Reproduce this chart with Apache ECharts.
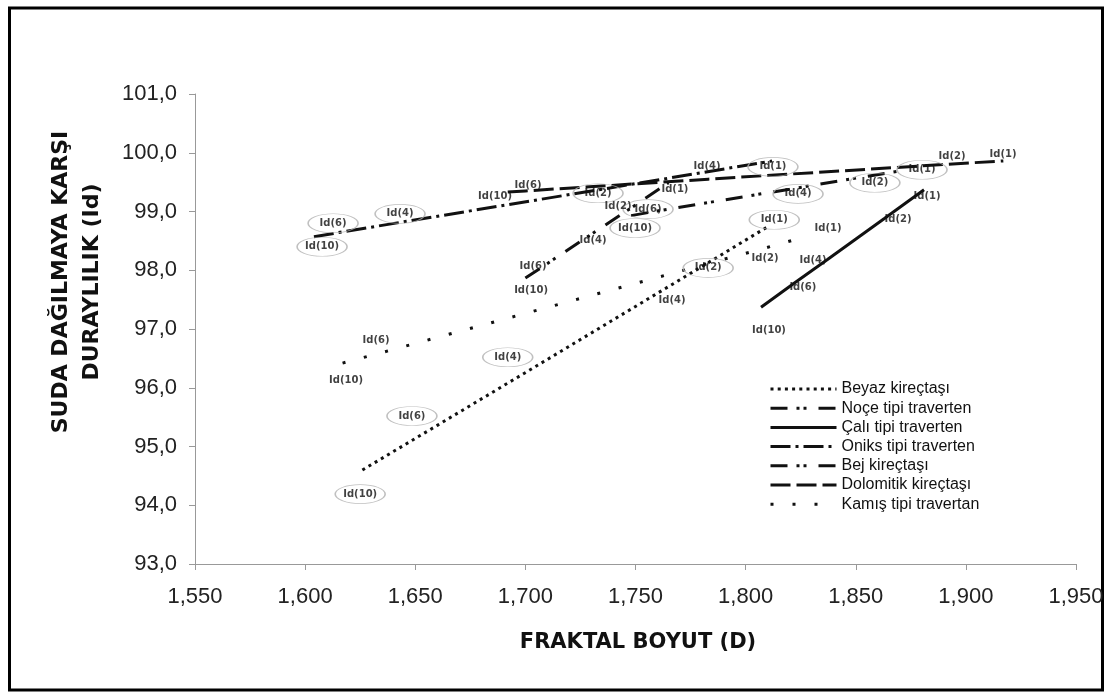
<!DOCTYPE html>
<html><head><meta charset="utf-8">
<script src="https://cdn.jsdelivr.net/npm/echarts@6/dist/echarts.min.js"></script>
<style>html,body{margin:0;padding:0;background:#fff}#c{width:1110px;height:698px}</style>
</head><body><div id="c"></div>
<script>
// ---- data ----
const idLabels = ['Id(10)', 'Id(6)', 'Id(4)', 'Id(2)', 'Id(1)'];
const seriesNames = ['Beyaz kireçtaşı', 'Noçe tipi traverten', 'Çalı tipi traverten', 'Oniks tipi traverten', 'Bej kireçtaşı', 'Dolomitik kireçtaşı', 'Kamış tipi travertan'];
const xTicks = { min: 1.55, max: 1.95, step: 0.05 };
const yTicks = { min: 93, max: 101, step: 1 };

const beyazD  = [1.626, 1.660, 1.705, 1.780, 1.810];
const beyazId = [94.60, 95.36, 96.37, 98.06, 98.74];
const beyazLblD  = [1.625, 1.6485, 1.692, 1.783, 1.813];
const beyazLblId = [94.19, 95.52, 96.52, 98.04, 98.86];

const noceD  = [1.700, 1.707, 1.725, 1.750, 1.765];
const noceId = [97.87, 98.04, 98.49, 99.11, 99.49];
const noceLblD  = [1.7026, 1.7035, 1.7307, 1.7421, 1.7679];
const noceLblId = [97.66, 98.06, 98.51, 99.09, 99.38];

const caliD  = [1.807, 1.822, 1.837, 1.863, 1.881];
const caliId = [97.37, 97.78, 98.18, 98.88, 99.37];
const caliLblD  = [1.8106, 1.8260, 1.8306, 1.8692, 1.8824];
const caliLblId = [96.98, 97.70, 98.17, 98.86, 99.25];

const oniksD  = [1.604, 1.615, 1.644, 1.735, 1.812];
const oniksId = [98.57, 98.64, 98.82, 99.38, 99.86];
const oniksLblD  = [1.6077, 1.6127, 1.6431, 1.7330, 1.8124];
const oniksLblId = [98.40, 98.80, 98.96, 99.31, 99.76];

const bejD  = [1.748, 1.760, 1.820, 1.852, 1.870];
const bejId = [98.93, 99.01, 99.38, 99.58, 99.69];
const bejLblD  = [1.7498, 1.7557, 1.8238, 1.8587, 1.8801];
const bejLblId = [98.72, 99.04, 99.30, 99.49, 99.71];

const doloD  = [1.692, 1.700, 1.783, 1.894, 1.917];
const doloId = [99.33, 99.35, 99.55, 99.81, 99.86];
const doloLblD  = [1.6862, 1.7012, 1.7825, 1.8937, 1.9169];
const doloLblId = [99.25, 99.45, 99.77, 99.93, 99.98];

const kamisD  = [1.617, 1.632, 1.767, 1.809, 1.827];
const kamisId = [96.42, 96.57, 97.95, 98.38, 98.57];
const kamisLblD  = [1.6186, 1.6322, 1.7666, 1.8088, 1.8374];
const kamisLblId = [96.13, 96.81, 97.49, 98.21, 98.72];

// ---- styles ----
const groups = [
  { d: beyazD, id: beyazId, ld: beyazLblD, lid: beyazLblId, ring: true,  dash: [3, 4.2] },
  { d: noceD,  id: noceId,  ld: noceLblD,  lid: noceLblId,  ring: false, dash: [17, 9, 3, 4, 3, 12] },
  { d: caliD,  id: caliId,  ld: caliLblD,  lid: caliLblId,  ring: false, dash: 'solid' },
  { d: oniksD, id: oniksId, ld: oniksLblD, lid: oniksLblId, ring: true,  dash: [20, 5, 3, 5] },
  { d: bejD,   id: bejId,   ld: bejLblD,   lid: bejLblId,   ring: true,  dash: [17, 9, 3, 4, 3, 12] },
  { d: doloD,  id: doloId,  ld: doloLblD,  lid: doloLblId,  ring: false, dash: [20, 6] },
  { d: kamisD, id: kamisId, ld: kamisLblD, lid: kamisLblId, ring: false, dash: [3, 19] }
];

const series = [];
groups.forEach((g, k) => {
  series.push({
    name: seriesNames[k], type: 'line', symbol: 'none', silent: true, z: 3,
    data: g.d.map((x, i) => [x, g.id[i]]),
    itemStyle: { color: 'rgba(0,0,0,0)' },
    lineStyle: { color: '#111', width: 3, type: g.dash, cap: 'butt' }
  });
});
groups.forEach((g, k) => {
  series.push({
    name: 'lbl' + k, type: 'scatter', silent: true, z: 4,
    symbol: 'circle',
    symbolSize: g.ring ? [50, 19] : 1,
    itemStyle: g.ring ? { color: 'rgba(255,255,255,0)', borderColor: '#b0b0b0', borderWidth: 1 } : { color: 'rgba(0,0,0,0)' },
    label: {
      show: true, position: 'inside', formatter: p => p.data[2],
      fontFamily: 'DejaVu Sans', fontWeight: 'bold', fontSize: 10, color: '#111'
    },
    data: g.ld.map((x, i) => [x, g.lid[i], idLabels[i]])
  });
});

const chart = echarts.init(document.getElementById('c'));
chart.setOption({
  animation: false,
  backgroundColor: '#fff',
  grid: { left: 195, right: 34, top: 94, bottom: 134, containLabel: false },
  xAxis: {
    type: 'value', min: xTicks.min, max: xTicks.max, interval: xTicks.step,
    axisLine: { lineStyle: { color: '#999', width: 1 } },
    axisTick: { show: true, length: 6, lineStyle: { color: '#999' } },
    splitLine: { show: false },
    axisLabel: { formatter: v => v.toFixed(3).replace('.', ','), fontFamily: 'Liberation Sans', fontSize: 22, color: '#222', margin: 22 }
  },
  yAxis: {
    type: 'value', min: yTicks.min, max: yTicks.max, interval: yTicks.step,
    axisLine: { show: true, lineStyle: { color: '#999', width: 1 } },
    axisTick: { show: true, length: 6, lineStyle: { color: '#999' } },
    splitLine: { show: false },
    axisLabel: { formatter: v => v.toFixed(1).replace('.', ','), fontFamily: 'Liberation Sans', fontSize: 22, color: '#222', margin: 18 }
  },
  legend: {
    data: seriesNames, orient: 'vertical', left: 764, top: 376,
    itemWidth: 66, itemHeight: 14, itemGap: 3.2, selectedMode: false,
    itemStyle: { color: 'rgba(0,0,0,0)', borderWidth: 0 },
    lineStyle: { width: 3, color: '#111' },
    textStyle: { fontFamily: 'Liberation Sans', fontSize: 16, color: '#111', lineHeight: 16 }
  },
  graphic: [
    { type: 'rect', silent: true, shape: { x: 9.5, y: 8, width: 1093, height: 682 }, style: { fill: 'none', stroke: '#000', lineWidth: 3 } },
    { type: 'text', silent: true, x: 77, y: 282, rotation: Math.PI / 2,
      style: { text: 'SUDA DAĞILMAYA KARŞI\nDURAYLILIK (Id)', fontFamily: 'DejaVu Sans', fontWeight: 'bold', fontSize: 22, lineHeight: 31, fill: '#111', align: 'center', verticalAlign: 'middle' } },
    { type: 'text', silent: true, x: 638, y: 643,
      style: { text: 'FRAKTAL BOYUT (D)', fontFamily: 'DejaVu Sans', fontWeight: 'bold', fontSize: 21, fill: '#111', align: 'center', verticalAlign: 'middle' } }
  ],
  series: series
});
</script></body></html>
